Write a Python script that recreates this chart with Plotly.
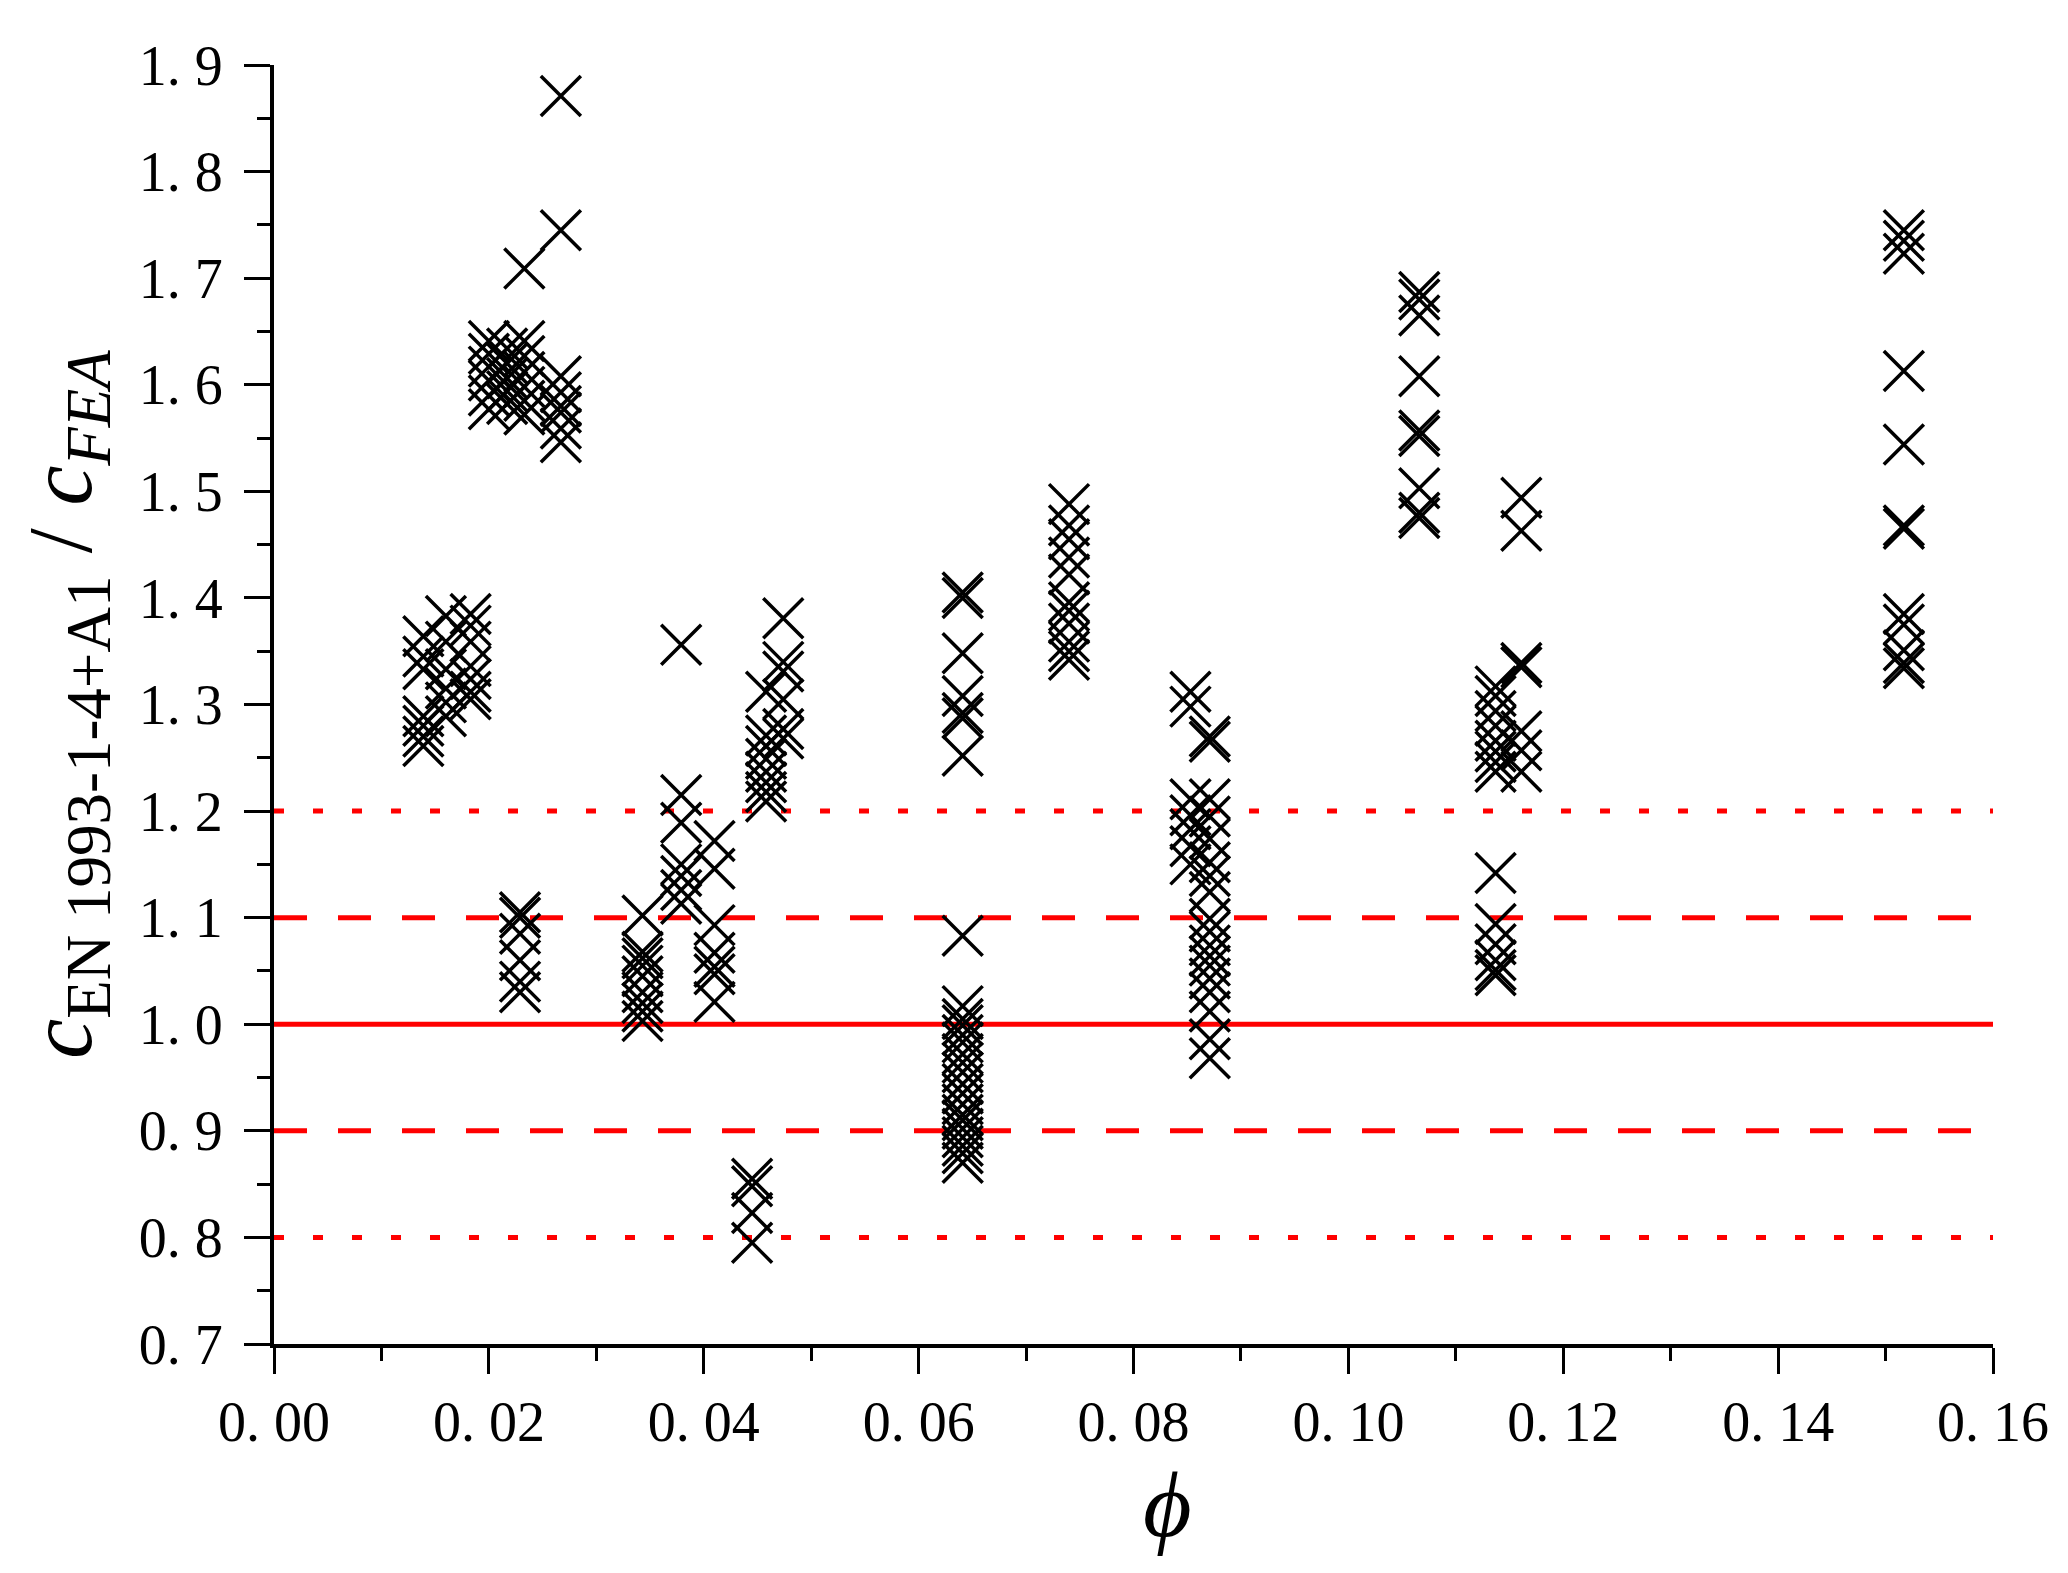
import plotly.graph_objects as go

# ---- data (phi, ratio c_EN / c_FEA) ----
phi_A = 0.0139; ratio_A = [1.364, 1.345, 1.333, 1.289, 1.280, 1.270, 1.261]
phi_B = 0.0160; ratio_B = [1.383, 1.359, 1.333, 1.315, 1.302, 1.289]
phi_C = 0.0183; ratio_C = [1.385, 1.374, 1.359, 1.336, 1.324, 1.312, 1.305]
phi_D = 0.0200; ratio_D = [1.641, 1.629, 1.617, 1.604, 1.590, 1.577]
phi_E = 0.0217; ratio_E = [1.634, 1.620, 1.606, 1.594, 1.582]
phi_F = 0.0229; ratio_F = [1.105, 1.100, 1.085, 1.060, 1.040, 1.030]
phi_G = 0.0233; ratio_G = [1.709, 1.641, 1.627, 1.612, 1.598, 1.585, 1.572]
phi_H = 0.0267; ratio_H = [1.871, 1.745, 1.608, 1.593, 1.580, 1.574, 1.559, 1.546]
phi_I = 0.0343; ratio_I = [1.102, 1.068, 1.062, 1.055, 1.045, 1.030, 1.020, 1.012, 1.003]
phi_J = 0.0379; ratio_J = [1.356, 1.215, 1.189, 1.150, 1.139, 1.126, 1.113]
phi_K = 0.0410; ratio_K = [1.172, 1.146, 1.093, 1.067, 1.054, 1.047, 1.021]
phi_L = 0.0445; ratio_L = [0.855, 0.848, 0.823, 0.795]
phi_M = 0.0458; ratio_M = [1.312, 1.271, 1.261, 1.249, 1.237, 1.227, 1.218, 1.209]
phi_N = 0.0474; ratio_N = [1.381, 1.340, 1.331, 1.305, 1.277, 1.268]
phi_O = 0.0641; ratio_O = [1.405, 1.400, 1.348, 1.308, 1.292, 1.287, 1.252, 1.083,
                           1.017, 1.005, 0.999, 0.990, 0.983, 0.972, 0.964, 0.955,
                           0.944, 0.935, 0.925, 0.915, 0.910, 0.902, 0.894, 0.886,
                           0.879, 0.870]
phi_P = 0.0740; ratio_P = [1.488, 1.468, 1.455, 1.438, 1.422, 1.396, 1.388, 1.376,
                           1.359, 1.350, 1.342]
phi_Q = 0.0853; ratio_Q = [1.312, 1.298, 1.211, 1.196, 1.183, 1.167, 1.150]
phi_R = 0.0871; ratio_R = [1.270, 1.265, 1.211, 1.195, 1.174, 1.152, 1.139, 1.124,
                           1.099, 1.087, 1.074, 1.064, 1.055, 1.043, 1.030, 1.012,
                           0.986, 0.968]
phi_S = 0.1066; ratio_S = [1.687, 1.680, 1.665, 1.608, 1.557, 1.552, 1.503, 1.480, 1.475]
phi_T = 0.1137; ratio_T = [1.317, 1.308, 1.294, 1.280, 1.266, 1.256, 1.246, 1.237,
                           1.142, 1.094, 1.075, 1.060, 1.051, 1.046]
phi_U = 0.1161; ratio_U = [1.494, 1.463, 1.339, 1.335, 1.275, 1.257, 1.237]
phi_V = 0.1517; ratio_V = [1.745, 1.735, 1.723, 1.613, 1.544, 1.468, 1.465, 1.385,
                           1.375, 1.351, 1.339, 1.334]

group_phi = [phi_A, phi_B, phi_C, phi_D, phi_E, phi_F, phi_G, phi_H, phi_I, phi_J,
             phi_K, phi_L, phi_M, phi_N, phi_O, phi_P, phi_Q, phi_R, phi_S, phi_T,
             phi_U, phi_V]
group_ratio = [ratio_A, ratio_B, ratio_C, ratio_D, ratio_E, ratio_F, ratio_G, ratio_H,
               ratio_I, ratio_J, ratio_K, ratio_L, ratio_M, ratio_N, ratio_O, ratio_P,
               ratio_Q, ratio_R, ratio_S, ratio_T, ratio_U, ratio_V]

# reference limit lines
limit_levels = [1.0, 0.9, 1.1, 0.8, 1.2]
limit_dash = ["solid", "33px,31px", "33px,31px", "10px,29px", "10px,29px"]

x_tickvals = [0.00, 0.02, 0.04, 0.06, 0.08, 0.10, 0.12, 0.14, 0.16]
x_ticktext = ["0. 00", "0. 02", "0. 04", "0. 06", "0. 08", "0. 10", "0. 12", "0. 14", "0. 16"]
y_tickvals = [0.7, 0.8, 0.9, 1.0, 1.1, 1.2, 1.3, 1.4, 1.5, 1.6, 1.7, 1.8, 1.9]
y_ticktext = ["0. 7", "0. 8", "0. 9", "1. 0", "1. 1", "1. 2", "1. 3", "1. 4", "1. 5",
              "1. 6", "1. 7", "1. 8", "1. 9"]

x_all, y_all = [], []
for p, vals in zip(group_phi, group_ratio):
    x_all += [p] * len(vals)
    y_all += vals

fig = go.Figure()

for lvl, dash in zip(limit_levels, limit_dash):
    fig.add_trace(go.Scatter(
        x=[0.0, 0.16], y=[lvl, lvl], mode="lines",
        line=dict(color="#ff0000", width=5, dash=dash),
        showlegend=False, hoverinfo="skip"))

fig.add_trace(go.Scatter(
    x=x_all, y=y_all, mode="markers",
    marker=dict(symbol="x-thin", size=40, color="black",
                line=dict(color="black", width=3.5)),
    showlegend=False))

serif = "Liberation Serif, DejaVu Serif, serif"

fig.update_layout(
    width=2068, height=1573,
    paper_bgcolor="white", plot_bgcolor="white",
    margin=dict(l=266, r=83, t=57, b=237),
    font=dict(family=serif, color="black"),
    annotations=[dict(
        text="<i>\u03d5</i>", xref="paper", yref="paper", x=0.52, y=-0.125,
        xanchor="center", yanchor="middle", showarrow=False,
        font=dict(family=serif, size=94, color="black"))],
)

fig.update_xaxes(
    range=[0, 0.16], showgrid=False, zeroline=False,
    showline=True, linecolor="black", linewidth=4, mirror=False,
    tickmode="array", tickvals=x_tickvals, ticktext=x_ticktext,
    ticks="outside", ticklen=26, tickwidth=3, tickcolor="black",
    minor=dict(dtick=0.01, ticks="outside", ticklen=13, tickwidth=3, tickcolor="black", showgrid=False),
    tickfont=dict(family=serif, size=56, color="black"),
)

fig.update_yaxes(
    range=[0.7, 1.9], showgrid=False, zeroline=False,
    showline=True, linecolor="black", linewidth=4, mirror=False,
    tickmode="array", tickvals=y_tickvals, ticktext=y_ticktext,
    ticks="outside", ticklen=26, tickwidth=3, tickcolor="black",
    ticklabelstandoff=10,
    minor=dict(dtick=0.05, ticks="outside", ticklen=13, tickwidth=3, tickcolor="black", showgrid=False),
    tickfont=dict(family=serif, size=56, color="black"),
    title=dict(text="<i>c</i><sub>EN 1993-1-4+A1</sub> / <i>c</i><sub><i>FEA</i></sub>",
               font=dict(family=serif, size=90, color="black"), standoff=18),
)

fig.write_html("out.html")
